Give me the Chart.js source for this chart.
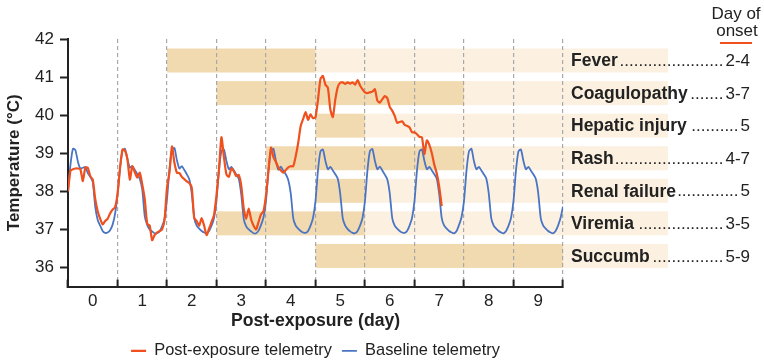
<!DOCTYPE html>
<html>
<head>
<meta charset="utf-8">
<script src="https://cdn.jsdelivr.net/npm/chart.js@4.4.1/dist/chart.umd.min.js"></script>
<style>
  html, body { margin: 0; padding: 0; background: #fff; }
  #wrap { width: 764px; height: 363px; }
</style>
</head>
<body>
<div id="wrap"><canvas id="chart"></canvas></div>
<script>
// samples every 0.05 day, starting at day -0.5
const startDay = -0.5
const step = 0.05

const postExposure = [
  38.00, 38.55, 38.58, 38.60, 38.60, 38.58, 38.27, 38.62, 38.62, 38.40,
  38.31, 37.80, 37.48, 37.28, 37.13, 37.22, 37.28, 37.42, 37.52, 37.58,
  37.92, 38.60, 39.10, 39.07, 38.85, 38.31, 38.66, 38.50, 38.36, 38.49,
  38.18, 37.80, 37.15, 37.10, 36.72, 36.85, 36.92, 36.96, 37.00, 37.25,
  38.10, 38.50, 39.18, 38.75, 38.49, 38.48, 38.38, 38.32, 38.26, 38.22,
  38.10, 37.30, 37.22, 37.10, 37.30, 37.10, 36.85, 37.02, 37.20, 37.38,
  37.90, 38.58, 39.42, 38.90, 38.45, 38.38, 38.60, 38.53, 38.40, 38.43,
  38.15, 37.55, 37.28, 37.55, 37.26, 37.10, 37.00, 37.20, 37.40, 37.48,
  37.90, 38.55, 39.15, 38.90, 38.77, 38.63, 38.55, 38.49, 38.56, 38.63,
  38.66, 38.66, 38.92, 39.27, 39.71, 39.90, 40.08, 39.88, 40.02, 39.92,
  39.95, 40.40, 40.95, 41.03, 40.80, 40.72, 40.15, 39.95, 40.41, 40.74,
  40.85, 40.86, 40.82, 40.86, 40.83, 40.86, 40.80, 40.92, 40.78, 40.68,
  40.60, 40.58, 40.60, 40.62, 40.68, 40.38, 40.33, 40.42, 40.50, 40.45,
  40.22, 40.12, 39.98, 39.80, 39.82, 39.84, 39.75, 39.72, 39.68, 39.55,
  39.55, 39.50, 39.43, 39.42, 38.98, 39.34, 39.22, 39.00, 38.70, 38.47,
  38.12, 37.61
]

const baseline = [
  38.00, 38.70, 39.12, 39.08, 38.78, 38.60, 38.62, 38.64, 38.48, 38.38,
  // day 0
  38.25, 37.60, 37.25, 37.10, 36.96, 36.91, 36.92, 36.98, 37.12, 37.40,
  37.90, 38.60, 39.05, 39.12, 38.85, 38.62, 38.66, 38.56, 38.46, 38.33,
  // day 1
  38.05, 37.35, 37.12, 37.00, 36.95, 36.90, 36.90, 36.95, 37.08, 37.28,
  37.80, 38.58, 39.08, 39.14, 38.82, 38.60, 38.66, 38.56, 38.45, 38.32,
  // day 2
  37.95, 37.30, 37.10, 37.02, 36.96, 36.92, 36.90, 36.96, 37.10, 37.30,
  37.78, 38.56, 39.06, 39.10, 38.80, 38.58, 38.64, 38.55, 38.44, 38.33,
  // day 3
  37.92, 37.28, 37.08, 37.00, 36.95, 36.90, 36.90, 36.97, 37.12, 37.32,
  37.75, 38.55, 39.05, 39.12, 38.80, 38.57, 38.65, 38.54, 38.45, 38.30,
  // day 4
  37.95, 37.30, 37.10, 37.02, 36.96, 36.92, 36.91, 36.96, 37.10, 37.30,
  37.75, 38.55, 39.05, 39.10, 38.80, 38.58, 38.64, 38.55, 38.45, 38.33,
  // day 5
  37.93, 37.30, 37.10, 37.01, 36.95, 36.91, 36.90, 36.96, 37.10, 37.30,
  37.76, 38.56, 39.06, 39.11, 38.80, 38.58, 38.65, 38.55, 38.44, 38.32,
  // day 6
  37.95, 37.30, 37.10, 37.02, 36.96, 36.92, 36.91, 36.96, 37.10, 37.30,
  37.75, 38.55, 39.05, 39.10, 38.80, 38.58, 38.64, 38.55, 38.45, 38.33,
  // day 7
  37.92, 37.30, 37.10, 37.02, 36.96, 36.92, 36.90, 36.96, 37.12, 37.32,
  37.75, 38.54, 39.05, 39.12, 38.80, 38.58, 38.64, 38.55, 38.45, 38.34,
  // day 8
  37.95, 37.30, 37.10, 37.02, 36.96, 36.92, 36.90, 36.96, 37.10, 37.30,
  37.75, 38.55, 39.05, 39.10, 38.80, 38.58, 38.64, 38.55, 38.45, 38.33,
  // day 9
  37.95, 37.30, 37.10, 37.02, 36.96, 36.92, 36.90, 36.96, 37.10, 37.30,
  37.60
]

const symptoms = ['Fever', 'Coagulopathy', 'Hepatic injury', 'Rash', 'Renal failure', 'Viremia', 'Succumb']
const onsetDays = ['2-4', '3-7', '5', '4-7', '5', '3-5', '5-9']
const bandStart = [1.5, 2.5, 4.5, 3.5, 4.5, 2.5, 4.5]
const bandEnd = [4.5, 7.5, 5.5, 7.5, 5.5, 5.5, 9.5]

const toPoints = arr => arr.map((v, i) => ({ x: +(startDay + i * step).toFixed(2), y: v }))
const isHalf = v => Math.abs(v - Math.round(v)) > 0.01

const dark = '#F2DAB0'
const light = '#FCF1E1'
const ink = '#222'
const family = '"Liberation Sans", Arial, sans-serif'

Chart.defaults.font.family = family
Chart.defaults.color = ink

const bandsPlugin = {
  id: 'bands',
  afterLayout(chart) {
    // centre the legend under the plot area
    chart.legend.left = chart.chartArea.left
    chart.legend.right = chart.chartArea.right
  },
  beforeDraw(chart) {
    const { ctx, chartArea, scales: { x, y } } = chart
    const rowTop = 41.75, rowGap = 0.855, rowH = 0.63
    ctx.save()
    symptoms.forEach((name, i) => {
      const top = y.getPixelForValue(rowTop - i * rowGap)
      const bot = y.getPixelForValue(rowTop - i * rowGap - rowH)
      const x0 = x.getPixelForValue(bandStart[i])
      const x1 = x.getPixelForValue(bandEnd[i])
      ctx.fillStyle = light
      ctx.fillRect(x1, top, chartArea.right + 105 - x1, bot - top)
      ctx.fillStyle = dark
      ctx.fillRect(x0, top, x1 - x0, bot - top)
    })
    ctx.restore()
  },
  afterDraw(chart) {
    const { ctx, chartArea, scales: { y } } = chart
    const rowTop = 41.75, rowGap = 0.855, rowH = 0.63
    const nameX = chartArea.right + 8
    const numX = chartArea.right + 187
    const bold = 'bold 17.5px ' + family
    const normal = '17px ' + family
    ctx.save()
    ctx.fillStyle = ink
    ctx.textBaseline = 'middle'
    symptoms.forEach((name, i) => {
      const cy = (y.getPixelForValue(rowTop - i * rowGap) + y.getPixelForValue(rowTop - i * rowGap - rowH)) / 2 + 1
      ctx.font = bold
      ctx.textAlign = 'left'
      ctx.fillText(name, nameX, cy)
      const nameEnd = nameX + ctx.measureText(name).width
      ctx.font = normal
      ctx.textAlign = 'right'
      ctx.fillText(onsetDays[i], numX, cy)
      const numStart = numX - ctx.measureText(onsetDays[i]).width
      const dotW = ctx.measureText('.').width
      const n = Math.floor((numStart - nameEnd - 3) / dotW)
      ctx.fillText('.'.repeat(Math.max(n, 0)), numStart - 2, cy)
    })
    // header
    ctx.font = normal
    ctx.textAlign = 'center'
    ctx.fillText('Day of', 736, 14)
    ctx.fillText('onset', 737, 31)
    ctx.strokeStyle = '#F0501E'
    ctx.lineWidth = 2
    ctx.beginPath()
    ctx.moveTo(720, 43)
    ctx.lineTo(752, 43)
    ctx.stroke()
    ctx.restore()
  }
}

new Chart(document.getElementById('chart'), {
  type: 'line',
  data: {
    datasets: [
      {
        label: 'Post-exposure telemetry',
        data: toPoints(postExposure),
        borderColor: '#F0501E',
        backgroundColor: '#F0501E',
        borderWidth: 2.2,
        pointRadius: 0,
        tension: 0.2
      },
      {
        label: 'Baseline telemetry',
        data: toPoints(baseline),
        borderColor: '#4A74C4',
        backgroundColor: '#4A74C4',
        borderWidth: 1.8,
        pointRadius: 0,
        tension: 0.2
      }
    ]
  },
  options: {
    responsive: true,
    maintainAspectRatio: false,
    animation: false,
    layout: { padding: { left: 0, right: 201, top: 39, bottom: -6 } },
    plugins: {
      tooltip: { enabled: false },
      legend: {
        position: 'bottom',
        labels: {
          usePointStyle: true,
          pointStyle: 'line',
          pointStyleWidth: 15,
          padding: 10,
          font: { size: 16.4 },
          color: ink
        }
      }
    },
    scales: {
      x: {
        type: 'linear',
        min: -0.5,
        max: 9.5,
        afterFit: s => { s.height = 46 },
        ticks: {
          stepSize: 0.5,
          autoSkip: false,
          maxRotation: 0,
          padding: 12,
          font: { size: 17 },
          color: ink,
          callback: v => isHalf(v) ? '' : Math.round(v)
        },
        grid: {
          drawOnChartArea: true,
          color: c => (c.tick && isHalf(c.tick.value)) ? '#A8A8A8' : 'rgba(0,0,0,0)',
          lineWidth: 1.2,
          tickLength: -7,
          tickWidth: 2,
          tickColor: c => (c.tick && isHalf(c.tick.value)) ? ink : 'rgba(0,0,0,0)'
        },
        border: { display: true, color: ink, width: 2, dash: [4, 3] },
        title: {
          display: true,
          text: 'Post-exposure (day)',
          font: { size: 17.6, weight: 'bold' },
          color: ink,
          padding: { top: 0, bottom: 1 }
        }
      },
      y: {
        min: 35.5,
        max: 42,
        afterFit: s => { s.width = 68 },
        ticks: {
          stepSize: 1,
          includeBounds: false,
          padding: 6,
          font: { size: 17 },
          color: ink
        },
        grid: {
          drawOnChartArea: false,
          tickLength: 8,
          tickWidth: 2,
          tickColor: ink
        },
        border: { display: true, color: ink, width: 2 },
        title: {
          display: true,
          text: 'Temperature (°C)',
          font: { size: 17, weight: 'bold' },
          color: ink,
          padding: { top: 4, bottom: 0 }
        }
      }
    }
  },
  plugins: [bandsPlugin]
})
</script>
</body>
</html>
